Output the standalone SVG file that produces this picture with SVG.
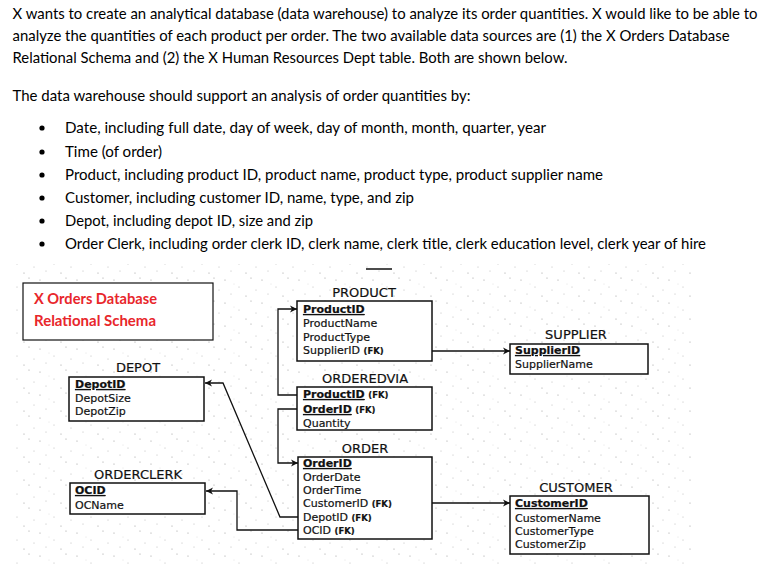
<svg xmlns="http://www.w3.org/2000/svg" width="767" height="565" viewBox="0 0 767 565">
<defs>
<style>
.p{font-family:Lato,"Liberation Sans",sans-serif;font-size:15px;fill:#000}
.rt{font-family:Lato,"Liberation Sans",sans-serif;font-size:15px;font-weight:bold;fill:#e8262b}
.tt{font-family:"DejaVu Sans",Verdana,sans-serif;font-size:13px;fill:#111;stroke:#111;stroke-width:0.2;text-anchor:middle}
.f{font-family:"DejaVu Sans",Verdana,sans-serif;font-size:11px;fill:#111;stroke:#111;stroke-width:0.2}
.pk{font-weight:bold;text-decoration:underline}
.fk{font-size:8.5px;font-weight:bold}
.box{fill:#fff;stroke:#111;stroke-width:1.5}
.c{fill:none;stroke:#111;stroke-width:1.3}
</style>
<marker id="ah" markerWidth="8" markerHeight="8" refX="7" refY="4" orient="auto" markerUnits="userSpaceOnUse">
<path d="M0,0.5 L7,4 L0,7.5 L2,4 Z" fill="#111"/>
</marker>
<pattern id="noise" width="37" height="23" patternUnits="userSpaceOnUse">
<circle cx="3" cy="4" r="0.6" fill="#999"/>
<circle cx="17" cy="11" r="0.5" fill="#aaa"/>
<circle cx="29" cy="2" r="0.6" fill="#999"/>
<circle cx="9" cy="18" r="0.5" fill="#aaa"/>
<circle cx="24" cy="20" r="0.6" fill="#999"/>
<circle cx="34" cy="14" r="0.5" fill="#aaa"/>
<circle cx="12" cy="8" r="0.4" fill="#bbb"/>
</pattern>
</defs>
<rect width="767" height="565" fill="#fff"/>

<g id="intro">
<text class="p" x="12.5" y="19" textLength="745" lengthAdjust="spacingAndGlyphs">X wants to create an analytical database (data warehouse) to analyze its order quantities. X would like to be able to</text>
<text class="p" x="12.5" y="41" textLength="717" lengthAdjust="spacingAndGlyphs">analyze the quantities of each product per order. The two available data sources are (1) the X Orders Database</text>
<text class="p" x="12.5" y="63" textLength="555" lengthAdjust="spacingAndGlyphs">Relational Schema and (2) the X Human Resources Dept table. Both are shown below.</text>
<text class="p" x="12.5" y="101" textLength="458" lengthAdjust="spacingAndGlyphs">The data warehouse should support an analysis of order quantities by:</text>
<circle cx="42" cy="128" r="2.6"/>
<circle cx="42" cy="152" r="2.6"/>
<circle cx="42" cy="175" r="2.6"/>
<circle cx="42" cy="198" r="2.6"/>
<circle cx="42" cy="221" r="2.6"/>
<circle cx="42" cy="244" r="2.6"/>
<text class="p" x="65" y="133" textLength="481" lengthAdjust="spacingAndGlyphs">Date, including full date, day of week, day of month, month, quarter, year</text>
<text class="p" x="65" y="157" textLength="97" lengthAdjust="spacingAndGlyphs">Time (of order)</text>
<text class="p" x="65" y="180" textLength="538" lengthAdjust="spacingAndGlyphs">Product, including product ID, product name, product type, product supplier name</text>
<text class="p" x="65" y="203" textLength="349" lengthAdjust="spacingAndGlyphs">Customer, including customer ID, name, type, and zip</text>
<text class="p" x="65" y="226" textLength="248" lengthAdjust="spacingAndGlyphs">Depot, including depot ID, size and zip</text>
<text class="p" x="65" y="249" textLength="641" lengthAdjust="spacingAndGlyphs">Order Clerk, including order clerk ID, clerk name, clerk title, clerk education level, clerk year of hire</text>
</g>

<rect x="16" y="264" width="678" height="301" fill="url(#noise)"/>
<line x1="366" y1="269" x2="392" y2="269" stroke="#111" stroke-width="1.5"/>

<g id="label">
<rect x="23" y="283" width="190" height="57" fill="#fff" stroke="#111" stroke-width="1.2"/>
<text class="rt" x="34" y="304" textLength="123" lengthAdjust="spacingAndGlyphs">X Orders Database</text>
<text class="rt" x="34" y="326" textLength="122" lengthAdjust="spacingAndGlyphs">Relational Schema</text>
</g>

<g id="connectors">
<path class="c" d="M297,395 H278 V309 H297" marker-end="url(#ah)"/>
<path class="c" d="M297,409 H278 V463 H298" marker-end="url(#ah)"/>
<path class="c" d="M432,351 H510" marker-end="url(#ah)"/>
<path class="c" d="M432,503 H510" marker-end="url(#ah)"/>
<path class="c" d="M298,517 H280 L223,383 H205" marker-end="url(#ah)"/>
<path class="c" d="M298,530 H237 V491 H206" marker-end="url(#ah)"/>
</g>

<g id="product">
<text class="tt" x="364" y="297">PRODUCT</text>
<rect class="box" x="297" y="301" width="135" height="60"/>
<text class="f" x="303" y="313"><tspan class="pk">ProductID</tspan></text>
<text class="f" x="303" y="327">ProductName</text>
<text class="f" x="303" y="341">ProductType</text>
<text class="f" x="303" y="354">SupplierID <tspan class="fk">(FK)</tspan></text>
</g>

<g id="orderedvia">
<text class="tt" x="365" y="383">ORDEREDVIA</text>
<rect class="box" x="297" y="387" width="135" height="43"/>
<text class="f" x="303" y="398"><tspan class="pk">ProductID</tspan> <tspan class="fk">(FK)</tspan></text>
<text class="f" x="303" y="413"><tspan class="pk">OrderID</tspan> <tspan class="fk">(FK)</tspan></text>
<text class="f" x="303" y="427">Quantity</text>
</g>

<g id="order">
<text class="tt" x="365" y="453">ORDER</text>
<rect class="box" x="298" y="457" width="134" height="82"/>
<text class="f" x="303" y="467"><tspan class="pk">OrderID</tspan></text>
<text class="f" x="303" y="481">OrderDate</text>
<text class="f" x="303" y="494">OrderTime</text>
<text class="f" x="303" y="507">CustomerID <tspan class="fk">(FK)</tspan></text>
<text class="f" x="303" y="521">DepotID <tspan class="fk">(FK)</tspan></text>
<text class="f" x="303" y="534">OCID <tspan class="fk">(FK)</tspan></text>
</g>

<g id="supplier">
<text class="tt" x="576" y="339">SUPPLIER</text>
<rect class="box" x="510" y="344" width="138" height="30"/>
<text class="f" x="515" y="354"><tspan class="pk">SupplierID</tspan></text>
<text class="f" x="515" y="368">SupplierName</text>
</g>

<g id="customer">
<text class="tt" x="576" y="492">CUSTOMER</text>
<rect class="box" x="510" y="496" width="139" height="58"/>
<text class="f" x="515" y="507"><tspan class="pk">CustomerID</tspan></text>
<text class="f" x="515" y="522">CustomerName</text>
<text class="f" x="515" y="535">CustomerType</text>
<text class="f" x="515" y="548">CustomerZip</text>
</g>

<g id="depot">
<text class="tt" x="138" y="372">DEPOT</text>
<rect class="box" x="69" y="377" width="135" height="44"/>
<text class="f" x="75" y="388"><tspan class="pk">DepotID</tspan></text>
<text class="f" x="75" y="402">DepotSize</text>
<text class="f" x="75" y="415">DepotZip</text>
</g>

<g id="orderclerk">
<text class="tt" x="138" y="479">ORDERCLERK</text>
<rect class="box" x="70" y="483" width="135" height="31"/>
<text class="f" x="75" y="494"><tspan class="pk">OCID</tspan></text>
<text class="f" x="75" y="509">OCName</text>
</g>
</svg>
